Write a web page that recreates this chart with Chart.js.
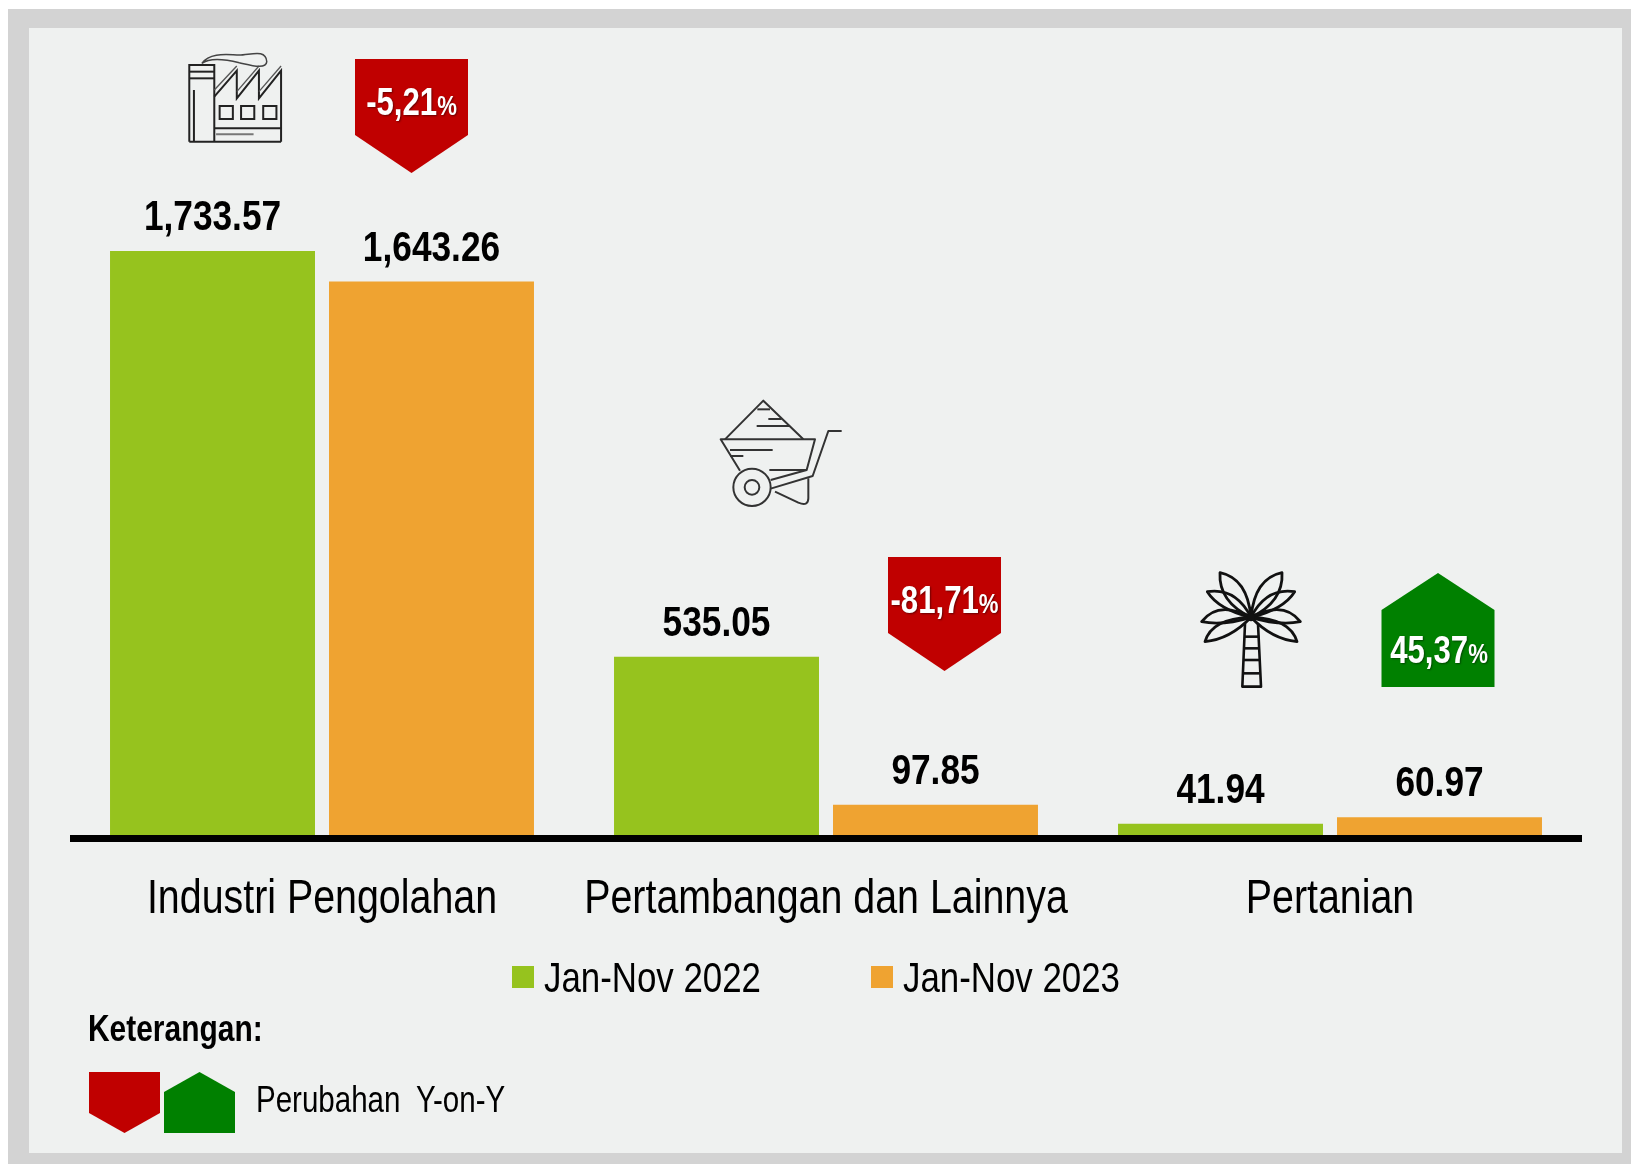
<!DOCTYPE html>
<html><head><meta charset="utf-8">
<script src="https://cdn.jsdelivr.net/npm/chart.js@4"></script>
<style>
html,body{margin:0;padding:0;background:#fff;width:1631px;height:1164px;overflow:hidden}
#outer{position:absolute;left:8px;top:9px;right:0;bottom:0;background:#d3d3d3}
#inner{position:absolute;left:29px;top:28px;width:1593px;height:1125px;background:#eff1f0}
canvas{position:absolute;left:0;top:0}
</style></head><body>
<div id="outer"></div><div id="inner"></div>
<canvas id="c" width="1631" height="1164"></canvas>
<script>
const categories=["Industri Pengolahan","Pertambangan dan Lainnya","Pertanian"];
const seriesNames=["Jan-Nov 2022","Jan-Nov 2023"];
const values2022=[1733.57,535.05,41.94];
const values2023=[1643.26,97.85,60.97];
const changes=["-5,21","-81,71","45,37"];
const GREEN='#96c31e',ORANGE='#efa331',RED='#c00000',DKGREEN='#008000',PANEL='#eff1f0';
const FONT='"Liberation Sans",Arial,sans-serif';
const BASE=838,PX=0.3386,YMAX=2400,NARROW=0.82;

// The reference face is a condensed grotesque: every label is narrowed with fillText's maxWidth.
const cv=document.getElementById('c'),c2d=cv.getContext('2d');
const rawFill=c2d.fillText.bind(c2d);
c2d.fillText=function(t,x,y){rawFill(t,x,y,c2d.measureText(t).width*NARROW);};

function pentagon(ctx,x,top,w,h,shoulder,up,color){
  ctx.fillStyle=color;ctx.beginPath();
  if(up){ctx.moveTo(x+w/2,top);ctx.lineTo(x+w,top+shoulder);ctx.lineTo(x+w,top+h);ctx.lineTo(x,top+h);ctx.lineTo(x,top+shoulder);}
  else{ctx.moveTo(x,top);ctx.lineTo(x+w,top);ctx.lineTo(x+w,top+h-shoulder);ctx.lineTo(x+w/2,top+h);ctx.lineTo(x,top+h-shoulder);}
  ctx.closePath();ctx.fill();
}
function badgeText(ctx,txt,cx,cy){
  ctx.save();
  ctx.shadowColor='rgba(0,0,0,.45)';ctx.shadowBlur=2;ctx.shadowOffsetX=1;ctx.shadowOffsetY=1;
  ctx.fillStyle='#fff';ctx.textBaseline='alphabetic';ctx.textAlign='left';
  ctx.font='bold 38px '+FONT;const w1=ctx.measureText(txt).width*NARROW;
  ctx.font='bold 27px '+FONT;const w2=ctx.measureText('%').width*NARROW;
  const x=cx-(w1+w2)/2;
  ctx.font='bold 38px '+FONT;ctx.fillText(txt,x,cy);
  ctx.font='bold 27px '+FONT;ctx.fillText('%',x+w1,cy);
  ctx.restore();
}
function line(ctx,pts){ctx.beginPath();pts.forEach((p,i)=>i?ctx.lineTo(p[0],p[1]):ctx.moveTo(p[0],p[1]));ctx.stroke();}
function factory(ctx){
  const X=v=>v/2.8,Y=v=>v/3;const L=a=>line(ctx,a.map(p=>[X(p[0]),Y(p[1])]));
  ctx.strokeStyle='#222';ctx.lineWidth=2;ctx.lineJoin='miter';
  L([[530,425],[530,195],[600,195],[600,425]]);
  L([[530,215],[600,215]]);L([[530,235],[600,235]]);
  L([[543,270],[543,425]]);
  L([[600,290],[663,212],[663,295],[725,212],[725,295],[787,212],[787,425]]);
  ctx.lineWidth=1.3;ctx.strokeStyle='#555';
  L([[600,270],[663,198]]);L([[663,275],[725,198]]);L([[725,275],[787,198]]);
  ctx.lineWidth=2;ctx.strokeStyle='#222';
  [615,675,737].forEach(x=>{ctx.strokeRect(X(x),Y(318),37/2.8,39/3);});
  L([[600,385],[787,385]]);L([[530,425],[787,425]]);
  ctx.strokeStyle='#777';L([[605,403],[710,403]]);
  ctx.strokeStyle='#444';ctx.lineWidth=1.5;ctx.beginPath();
  ctx.moveTo(X(565),Y(190));
  ctx.bezierCurveTo(X(590),Y(155),X(640),Y(165),X(670),Y(165));
  ctx.bezierCurveTo(X(700),Y(165),X(745),Y(145),X(747),Y(185));
  ctx.bezierCurveTo(X(745),Y(210),X(700),Y(195),X(670),Y(188));
  ctx.bezierCurveTo(X(640),Y(180),X(590),Y(170),X(565),Y(190));
  ctx.stroke();
}
function barrow(ctx){
  const S=v=>v/3;const L=a=>line(ctx,a.map(p=>[S(p[0]),S(p[1])]));
  ctx.strokeStyle='#333';ctx.lineWidth=2;ctx.lineJoin='round';
  L([[135,178],[250,62],[370,178]]);
  L([[180,272],[122,178],[405,178],[380,270],[272,300]]);
  L([[150,210],[278,210]]);L([[150,228],[190,228]]);
  L([[230,138],[330,138]]);L([[265,117],[305,117]]);L([[232,88],[270,88]]);
  L([[268,270],[380,270]]);
  L([[485,153],[445,153],[398,288],[272,326]]);
  ctx.beginPath();ctx.arc(S(216),S(322),S(56),0,7);ctx.stroke();
  ctx.beginPath();ctx.arc(S(216),S(322),S(22),0,7);ctx.stroke();
  ctx.beginPath();ctx.moveTo(S(385),S(295));ctx.lineTo(S(385),S(355));
  ctx.quadraticCurveTo(S(385),S(380),S(355),S(368));ctx.lineTo(S(285),S(335));ctx.stroke();
}
function palm(ctx){
  const S=v=>v/3,cx=303,cy=202;
  ctx.strokeStyle='#111';ctx.lineWidth=2.8;ctx.lineJoin='round';
  // left-hand fronds: tip, upper-edge control, lower-edge control; the right hand mirrors them
  const fronds=[
    [[210,68],[292,85],[205,155]],
    [[172,125],[258,112],[205,178]],
    [[155,215],[205,150],[218,228]],
    [[165,275],[185,205],[240,268]]
  ];
  [1,-1].forEach(side=>{
    const M=x=>S(cx+side*(x-cx));
    fronds.forEach(f=>{
      ctx.beginPath();ctx.moveTo(M(cx),S(cy));
      ctx.quadraticCurveTo(M(f[1][0]),S(f[1][1]),M(f[0][0]),S(f[0][1]));
      ctx.quadraticCurveTo(M(f[2][0]),S(f[2][1]),M(cx),S(cy));
      ctx.stroke();
    });
  });
  ctx.lineWidth=2.6;
  line(ctx,[[S(285),S(222)],[S(277),S(410)],[S(333),S(410)],[S(324),S(222)]]);
  [260,295,330,370].forEach(y=>line(ctx,[[S(282),S(y)],[S(328),S(y)]]));
  ctx.fillStyle='#111';ctx.beginPath();ctx.arc(S(cx),S(cy),4,0,7);ctx.fill();
}

const decor={
  id:'decor',
  afterDatasetsDraw(chart){
    const ctx=chart.ctx,xs=chart.scales.x;
    const cats=[0,1,2].map(i=>xs.getPixelForValue(i));
    ctx.save();
    ctx.fillStyle='#000';ctx.textAlign='center';ctx.textBaseline='alphabetic';
    ctx.font='bold 43px '+FONT;
    chart.data.datasets.forEach((ds,d)=>{
      chart.getDatasetMeta(d).data.forEach((bar,i)=>{
        const t=ds.data[i].toLocaleString('en-US',{minimumFractionDigits:2,maximumFractionDigits:2});
        ctx.fillText(t,bar.x,bar.y-21);
      });
    });
    const bw=113;
    const tops=[59,557,573],off=[89.5,118.5,108];
    changes.forEach((c,i)=>{
      const up=c[0]!=='-',x=cats[i]+off[i]-bw/2,top=tops[i];
      pentagon(ctx,x,top,bw,114,up?37:38,up,up?DKGREEN:RED);
      badgeText(ctx,c,x+bw/2+(up?1:0),top+(up?90:56));
    });
    ctx.save();factory(ctx);ctx.restore();
    ctx.save();ctx.translate(680,380);barrow(ctx);ctx.restore();
    ctx.save();ctx.translate(1150,550);palm(ctx);ctx.restore();
    ctx.font='42.5px '+FONT;ctx.textAlign='left';ctx.textBaseline='alphabetic';
    [[512,GREEN],[871,ORANGE]].forEach((e,i)=>{
      ctx.fillStyle=e[1];ctx.fillRect(e[0],966,22,22);
      ctx.fillStyle='#000';ctx.fillText(seriesNames[i],e[0]+32,992);
    });
    ctx.fillStyle='#000';ctx.font='bold 36.5px '+FONT;ctx.fillText('Keterangan:',88,1041);
    pentagon(ctx,89,1072,71,61,20,false,RED);
    pentagon(ctx,164,1072,71,61,20,true,DKGREEN);
    ctx.fillStyle='#000';ctx.font='36px '+FONT;ctx.wordSpacing='9px';ctx.fillText('Perubahan Y-on-Y',256,1112);ctx.wordSpacing='0px';
    ctx.restore();
  },
  afterDraw(chart){
    // trim the half line width Chart.js adds past the ends of the axis border
    const a=chart.chartArea,ctx=chart.ctx;
    ctx.save();ctx.fillStyle=PANEL;
    ctx.fillRect(a.left-5,a.bottom-6,5,12);ctx.fillRect(a.right,a.bottom-6,5,12);
    ctx.restore();
  }
};

new Chart(cv,{
  type:'bar',
  data:{labels:categories,datasets:[
    {label:seriesNames[0],data:values2022,backgroundColor:GREEN},
    {label:seriesNames[1],data:values2023,backgroundColor:ORANGE}
  ]},
  options:{
    responsive:false,animation:false,
    layout:{padding:{left:70,right:49,top:BASE-YMAX*PX,bottom:0}},
    datasets:{bar:{categoryPercentage:0.869,barPercentage:0.936}},
    plugins:{legend:{display:false},tooltip:{enabled:false},title:{display:false}},
    scales:{
      y:{display:false,min:0,max:YMAX},
      x:{
        afterFit(s){s.height=1164-BASE;},
        grid:{display:false,drawTicks:false},
        border:{display:true,color:'#000',width:7,z:1},
        ticks:{color:'#000',padding:33,maxRotation:0,autoSkip:false,font:{family:FONT,size:48,weight:'normal'}}
      }
    }
  },
  plugins:[decor]
});
</script>
</body></html>
